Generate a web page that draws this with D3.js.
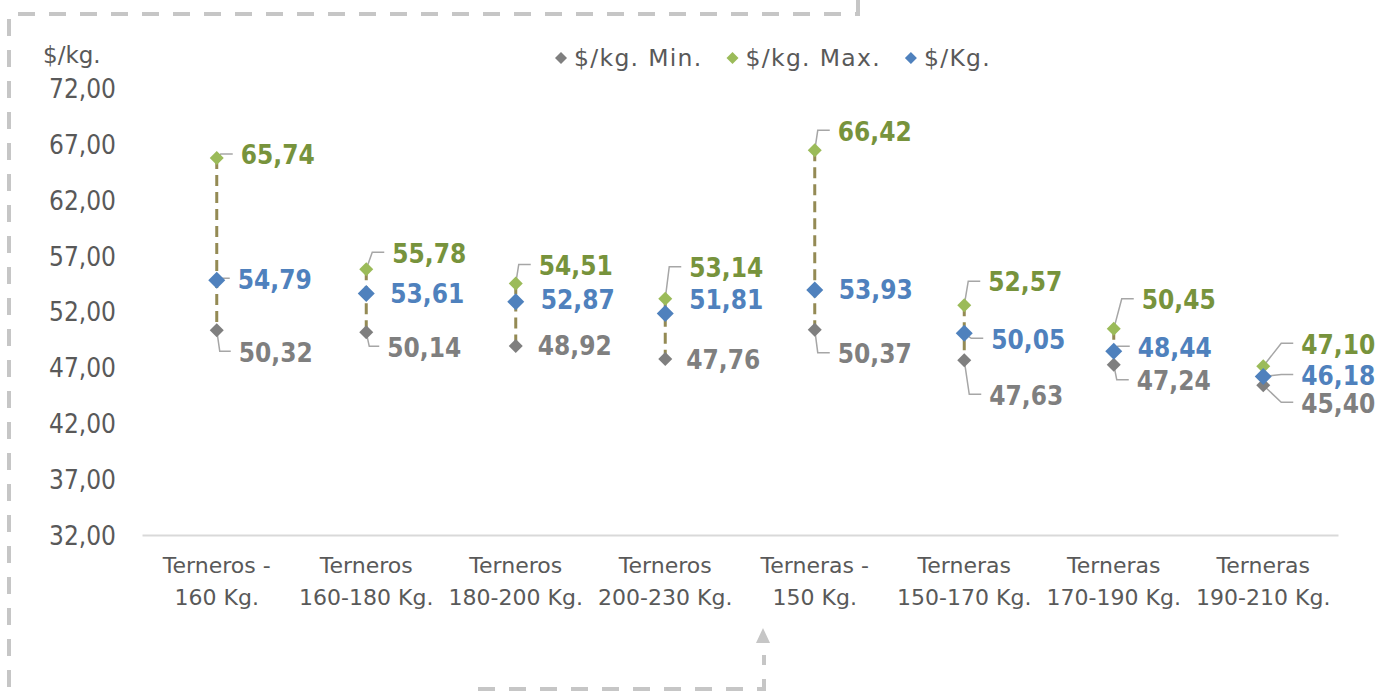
<!DOCTYPE html>
<html>
<head>
<meta charset="utf-8">
<script src="https://cdn.jsdelivr.net/npm/d3@7"></script>
<style>
  html, body { margin: 0; padding: 0; background: #ffffff; }
  svg { display: block; }
  text { font-family: "DejaVu Sans Condensed", "DejaVu Sans", sans-serif; font-stretch: condensed; }
  text.reg { font-family: "DejaVu Sans", sans-serif; font-stretch: normal; }
</style>
</head>
<body>
<svg id="chart" width="1389" height="691"></svg>
<script>
// ---------- data ----------
const categories = [
  "Terneros -|160 Kg.",
  "Terneros|160-180 Kg.",
  "Terneros|180-200 Kg.",
  "Terneros|200-230 Kg.",
  "Terneras -|150 Kg.",
  "Terneras|150-170 Kg.",
  "Terneras|170-190 Kg.",
  "Terneras|190-210 Kg."
];
const minValues = [50.32, 50.14, 48.92, 47.76, 50.37, 47.63, 47.24, 45.40];
const maxValues = [65.74, 55.78, 54.51, 53.14, 66.42, 52.57, 50.45, 47.10];
const avgValues = [54.79, 53.61, 52.87, 51.81, 53.93, 50.05, 48.44, 46.18];
const yTicks = [32, 37, 42, 47, 52, 57, 62, 67, 72];
const seriesNames = ["$/kg. Min.", "$/kg. Max.", "$/Kg."];
const yTitle = "$/kg.";

// ---------- layout (label offsets relative to marker: [dx, dy, leader]) ----------
const maxLabelPos = [[24,-3,1],[26,-16,1],[23,-18,1],[24,-31,1],[23,-19,1],[24,-23,1],[28,-29,1],[38,-22,1]];
const avgLabelPos = [[21,-1,1],[24,0,0],[25,-2,0],[24,-14,0],[24,0,0],[27,6,1],[24,-4,1],[38,-1,1]];
const minLabelPos = [[22,22,1],[21,15,1],[22,0,0],[21,1,0],[23,24,1],[25,35,1],[23,16,1],[38,18,1]];

const colors = { min: "#7f7f7f", max: "#9bbb59", avg: "#4f81bd" };
const labelColors = { min: "#7f7f7f", max: "#77933c", avg: "#4f81bd" };

const svg = d3.select("#chart");
const locale = d3.formatLocale({ decimal: ",", thousands: ".", grouping: [3], currency: ["$", ""] });
const fmt = locale.format(".2f");

const x = d3.scaleBand().domain(categories).range([142, 1338]);
const y = d3.scaleLinear().domain([32, 72]).range([535, 88]);

// ---------- decorative dashed frame ----------
const frame = svg.append("g").attr("fill", "none").attr("stroke", "#c6c6c6").attr("stroke-width", 4);
frame.append("path").attr("d", "M858,0 V14 H9 V691").attr("stroke-dasharray", "17,14");
frame.append("path").attr("d", "M478,689 H764 V655").attr("stroke-dasharray", "17,14");
svg.append("path").attr("d", "M756,643 L763,628 L770,643 Z").attr("fill", "#c6c6c6");

// ---------- axes ----------
const yAxis = d3.axisLeft(y).tickValues(yTicks).tickFormat(fmt).tickSize(0).tickPadding(0);
const gy = svg.append("g").attr("transform", "translate(116,0)").call(yAxis);
gy.select(".domain").remove();
gy.selectAll("text").attr("font-size", 26).attr("fill", "#595959").attr("dy", "0.36em");

const xAxis = d3.axisBottom(x).tickSize(0).tickFormat(() => "");
const gx = svg.append("g").attr("transform", "translate(0,535)").call(xAxis);
gx.select(".domain").attr("stroke", "#d9d9d9").attr("stroke-width", 2);
gx.selectAll(".tick").each(function(d) {
  const t = d3.select(this).select("text").text(null).attr("class", "reg")
    .attr("font-size", 22).attr("fill", "#595959").attr("text-anchor", "middle").attr("y", 0).attr("dy", null);
  d.split("|").forEach((line, i) => {
    t.append("tspan").attr("x", 0).attr("y", 38 + i * 32).text(line);
  });
});

svg.append("text").attr("class", "reg").attr("x", 43).attr("y", 63).attr("font-size", 23).attr("fill", "#595959").text(yTitle);

// ---------- high-low lines ----------
const cx = d => x(d) + x.bandwidth() / 2;
svg.append("g").selectAll("line").data(categories).join("line")
  .attr("x1", cx).attr("x2", cx)
  .attr("y1", (d, i) => y(maxValues[i])).attr("y2", (d, i) => y(minValues[i]))
  .attr("stroke", "#948a54").attr("stroke-width", 3).attr("stroke-dasharray", "11,6");

// ---------- leader lines + labels ----------
function drawLabels(values, pos, key) {
  const g = svg.append("g");
  values.forEach((v, i) => {
    const mx = cx(categories[i]), my = y(v);
    const [dx, dy, leader] = pos[i];
    const lx = mx + dx, ly = my + dy;
    if (leader) {
      const ex = Math.max(mx + 3, lx - 20);
      g.append("path")
        .attr("d", `M${mx},${my} L${ex},${ly - 1} L${lx - 8},${ly - 1}`)
        .attr("fill", "none").attr("stroke", "#a6a6a6").attr("stroke-width", 1.5);
    }
    g.append("text").attr("x", lx).attr("y", ly).attr("dy", "0.36em")
      .attr("font-size", 26).attr("font-weight", "bold").attr("fill", labelColors[key])
      .text(fmt(v));
  });
}
drawLabels(maxValues, maxLabelPos, "max");
drawLabels(avgValues, avgLabelPos, "avg");
drawLabels(minValues, minLabelPos, "min");

// ---------- markers ----------
const diamond = s => `M0,${-s} L${s},0 L0,${s} L${-s},0 Z`;
function drawMarkers(values, key, size) {
  svg.append("g").selectAll("path").data(values).join("path")
    .attr("transform", (v, i) => `translate(${cx(categories[i])},${y(v)})`)
    .attr("d", diamond(size)).attr("fill", colors[key]);
}
drawMarkers(minValues, "min", 7);
drawMarkers(maxValues, "max", 7);
drawMarkers(avgValues, "avg", 8.5);

// ---------- legend ----------
const legend = svg.append("g").attr("transform", "translate(561,58)");
const legKeys = ["min", "max", "avg"];
let lxPos = 0;
legKeys.forEach((k, i) => {
  legend.append("path").attr("transform", `translate(${lxPos},0)`).attr("d", diamond(6)).attr("fill", colors[k]);
  const t = legend.append("text").attr("class", "reg").attr("x", lxPos + 13).attr("y", 0).attr("dy", "0.36em")
    .attr("font-size", 23.5).attr("letter-spacing", 1.3).attr("fill", "#595959").text(seriesNames[i]);
  lxPos += 13 + t.node().getComputedTextLength() + 30;
});
</script>
</body>
</html>
